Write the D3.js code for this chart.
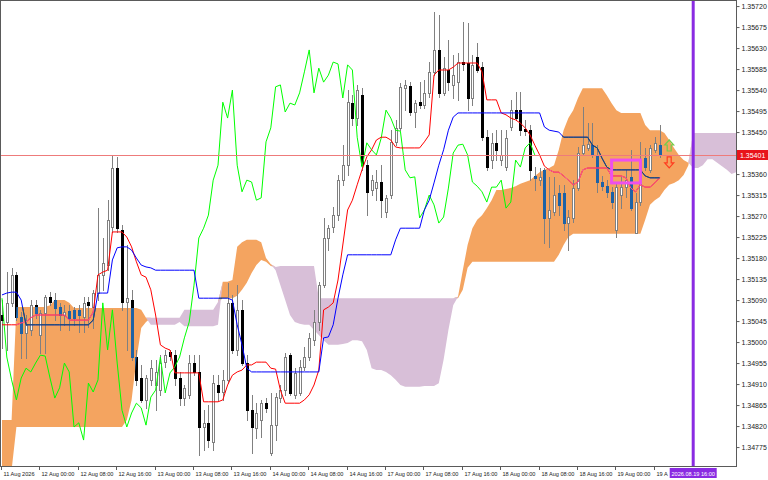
<!DOCTYPE html>
<html><head><meta charset="utf-8">
<script src="https://cdn.jsdelivr.net/npm/d3@7"></script>
<style>html,body{margin:0;padding:0;background:#fff}svg{display:block}</style>
</head><body><svg id="c" width="768" height="480"></svg>
<script>
// ---- data (H1 bars, 11 Aug 2026 16:00 .. 19 Aug 2026 09:00) ----
const opens=[
1.35058,1.35043,1.35084,1.35144,1.35054,1.35019,1.35026,1.35079,1.35015,1.35062,
1.35097,1.35090,1.35075,1.35058,1.35067,1.35069,1.35069,1.35054,1.35086,1.35075,
1.35105,1.35144,1.35165,1.35247,1.35373,1.35240,1.35086,1.35090,1.34968,1.34923,
1.34876,1.34919,1.34908,1.34897,1.34957,1.34979,1.34972,1.34923,1.34880,1.34887,
1.34955,1.34936,1.34818,1.34827,1.34786,1.34908,1.34893,1.34919,1.35084,1.34983,
1.35069,1.34955,1.34854,1.34816,1.34833,1.34869,1.34762,1.34822,1.34880,1.34897,
1.34972,1.34887,1.34891,1.34947,1.34968,1.35004,1.35043,1.35122,1.35223,1.35247,
1.35272,1.35347,1.35379,1.35512,1.35480,1.35529,1.35379,1.35326,1.35330,1.35343,
1.35279,1.35315,1.35429,1.35459,1.35544,1.35549,1.35493,1.35514,1.35508,1.35534,
1.35579,1.35626,1.35534,1.35583,1.35551,1.35557,1.35600,1.35598,1.35523,1.35611,
1.35589,1.35439,1.35390,1.35427,1.35390,1.35375,1.35461,1.35497,1.35497,1.35457,
1.35454,1.35356,1.35347,1.35369,1.35266,1.35279,1.35319,1.35319,1.35255,1.35266,
1.35330,1.35405,1.35416,1.35422,1.35401,1.35343,1.35334,1.35322,1.35240,1.35315,
1.35332,1.35354,1.35234,1.35300,1.35394,1.35369,1.35412,1.35422];
const highs=[
1.35090,1.35150,1.35159,1.35150,1.35064,1.35058,1.35090,1.35090,1.35069,1.35101,
1.35107,1.35105,1.35084,1.35079,1.35079,1.35075,1.35079,1.35097,1.35097,1.35112,
1.35287,1.35223,1.35304,1.35401,1.35397,1.35251,1.35208,1.35112,1.34983,1.34951,
1.34929,1.34962,1.34962,1.34972,1.34983,1.34983,1.34983,1.34936,1.34908,1.34972,
1.34972,1.34972,1.34854,1.34865,1.34929,1.34929,1.34940,1.35127,1.35101,1.35122,
1.35090,1.34972,1.34887,1.34869,1.34876,1.34880,1.34891,1.34891,1.34908,1.34977,
1.34977,1.34944,1.34962,1.34989,1.35019,1.35069,1.35129,1.35266,1.35251,1.35289,
1.35358,1.35422,1.35540,1.35529,1.35551,1.35544,1.35390,1.35358,1.35369,1.35379,
1.35315,1.35454,1.35476,1.35555,1.35562,1.35557,1.35519,1.35557,1.35562,1.35600,
1.35707,1.35701,1.35611,1.35647,1.35615,1.35619,1.35686,1.35684,1.35615,1.35641,
1.35600,1.35454,1.35448,1.35454,1.35454,1.35454,1.35519,1.35536,1.35536,1.35476,
1.35465,1.35375,1.35373,1.35373,1.35354,1.35354,1.35337,1.35337,1.35283,1.35347,
1.35418,1.35504,1.35469,1.35469,1.35422,1.35356,1.35347,1.35332,1.35341,1.35354,
1.35369,1.35412,1.35319,1.35429,1.35416,1.35422,1.35439,1.35465];
const lows=[
1.34987,1.34983,1.35077,1.35047,1.34966,1.34966,1.35015,1.35052,1.34977,1.34977,
1.35079,1.35047,1.35026,1.35037,1.35026,1.35037,1.35022,1.35022,1.35032,1.35030,
1.35090,1.35112,1.35154,1.35236,1.35236,1.35069,1.34983,1.34962,1.34908,1.34872,
1.34859,1.34908,1.34854,1.34887,1.34947,1.34962,1.34908,1.34865,1.34865,1.34880,
1.34929,1.34758,1.34769,1.34775,1.34769,1.34876,1.34876,1.34912,1.34977,1.34972,
1.34951,1.34833,1.34762,1.34794,1.34797,1.34850,1.34758,1.34790,1.34872,1.34887,
1.34887,1.34880,1.34887,1.34940,1.34962,1.34994,1.35026,1.35118,1.35197,1.35236,
1.35262,1.35337,1.35358,1.35465,1.35465,1.35369,1.35272,1.35315,1.35304,1.35268,
1.35268,1.35309,1.35422,1.35454,1.35497,1.35487,1.35461,1.35502,1.35502,1.35525,
1.35572,1.35525,1.35529,1.35540,1.35523,1.35519,1.35583,1.35497,1.35508,1.35579,
1.35433,1.35369,1.35373,1.35390,1.35379,1.35369,1.35454,1.35476,1.35444,1.35444,
1.35347,1.35326,1.35337,1.35212,1.35204,1.35272,1.35272,1.35240,1.35197,1.35257,
1.35326,1.35401,1.35412,1.35397,1.35322,1.35326,1.35311,1.35287,1.35225,1.35287,
1.35311,1.35283,1.35234,1.35294,1.35369,1.35364,1.35407,1.35397];
const closes=[
1.35047,1.35084,1.35144,1.35054,1.35019,1.35037,1.35079,1.35062,1.35062,1.35097,
1.35086,1.35073,1.35058,1.35064,1.35052,1.35052,1.35058,1.35084,1.35079,1.35105,
1.35144,1.35169,1.35262,1.35373,1.35244,1.35086,1.35094,1.34968,1.34919,1.34876,
1.34923,1.34944,1.34936,1.34955,1.34972,1.34970,1.34923,1.34880,1.34902,1.34955,
1.34936,1.34818,1.34827,1.34790,1.34912,1.34893,1.34919,1.35084,1.34983,1.35069,
1.34955,1.34854,1.34818,1.34848,1.34869,1.34859,1.34822,1.34882,1.34897,1.34968,
1.34891,1.34934,1.34947,1.34968,1.35009,1.35043,1.35122,1.35223,1.35244,1.35272,
1.35347,1.35379,1.35514,1.35480,1.35540,1.35379,1.35322,1.35347,1.35343,1.35304,
1.35309,1.35429,1.35459,1.35547,1.35551,1.35493,1.35512,1.35508,1.35534,1.35579,
1.35626,1.35534,1.35587,1.35557,1.35572,1.35600,1.35596,1.35523,1.35594,1.35583,
1.35439,1.35375,1.35427,1.35412,1.35401,1.35437,1.35497,1.35480,1.35454,1.35452,
1.35369,1.35352,1.35354,1.35266,1.35283,1.35315,1.35294,1.35255,1.35268,1.35330,
1.35405,1.35422,1.35424,1.35401,1.35343,1.35334,1.35322,1.35300,1.35332,1.35332,
1.35347,1.35287,1.35300,1.35390,1.35375,1.35416,1.35427,1.35401];
const tenkan=[
1.35037,1.35037,1.35037,1.35037,1.35041,1.35043,1.35052,1.35058,1.35058,1.35058,
1.35058,1.35058,1.35058,1.35058,1.35047,1.35047,1.35047,1.35047,1.35047,1.35064,
1.35144,1.35150,1.35154,1.35236,1.35236,1.35236,1.35225,1.35204,1.35172,1.35144,
1.35139,1.35112,1.35058,1.34994,1.34987,1.34983,1.34934,1.34934,1.34934,1.34934,
1.34934,1.34934,1.34872,1.34872,1.34872,1.34872,1.34876,1.34908,1.34929,1.34936,
1.34940,1.34951,1.34951,1.34957,1.34957,1.34957,1.34944,1.34942,1.34897,1.34869,
1.34869,1.34869,1.34869,1.34876,1.34887,1.34908,1.34940,1.35069,1.35075,1.35084,
1.35133,1.35208,1.35283,1.35304,1.35337,1.35369,1.35397,1.35412,1.35433,1.35439,
1.35439,1.35433,1.35418,1.35416,1.35416,1.35416,1.35416,1.35416,1.35429,1.35444,
1.35572,1.35583,1.35583,1.35583,1.35589,1.35598,1.35598,1.35598,1.35598,1.35598,
1.35579,1.35519,1.35519,1.35519,1.35491,1.35487,1.35480,1.35476,1.35469,1.35459,
1.35444,1.35422,1.35401,1.35377,1.35369,1.35364,1.35364,1.35356,1.35347,1.35337,
1.35343,1.35369,1.35373,1.35373,1.35373,1.35373,1.35373,1.35356,1.35356,1.35356,
1.35352,1.35330,1.35322,1.35337,1.35332,1.35332,1.35341,1.35352];
const kijun=[
1.35101,1.35105,1.35107,1.35107,1.35090,1.35037,1.35037,1.35037,1.35037,1.35037,
1.35037,1.35037,1.35037,1.35037,1.35037,1.35037,1.35037,1.35037,1.35037,1.35047,
1.35105,1.35105,1.35105,1.35176,1.35202,1.35204,1.35204,1.35197,1.35180,1.35165,
1.35161,1.35159,1.35154,1.35154,1.35154,1.35154,1.35154,1.35154,1.35154,1.35154,
1.35154,1.35094,1.35094,1.35094,1.35094,1.35094,1.35094,1.35094,1.35090,1.35037,
1.34994,1.34944,1.34936,1.34936,1.34936,1.34936,1.34936,1.34936,1.34936,1.34936,
1.34936,1.34936,1.34936,1.34936,1.34936,1.34936,1.34936,1.35009,1.35011,1.35037,
1.35094,1.35144,1.35187,1.35187,1.35187,1.35187,1.35187,1.35187,1.35187,1.35187,
1.35187,1.35187,1.35219,1.35244,1.35244,1.35244,1.35244,1.35244,1.35283,1.35304,
1.35341,1.35379,1.35412,1.35454,1.35482,1.35491,1.35491,1.35491,1.35491,1.35491,
1.35491,1.35491,1.35491,1.35491,1.35491,1.35491,1.35491,1.35491,1.35491,1.35491,
1.35491,1.35491,1.35491,1.35461,1.35454,1.35452,1.35450,1.35439,1.35439,1.35439,
1.35439,1.35439,1.35439,1.35422,1.35416,1.35394,1.35375,1.35369,1.35369,1.35369,
1.35369,1.35369,1.35369,1.35369,1.35356,1.35352,1.35352,1.35352];
// Senkou spans, already shifted 26 bars forward (index = bar on screen)
const spanA=[
1.34833,1.34833,1.34833,1.35075,1.35075,1.35075,1.35075,1.35075,1.35075,1.35075,
1.35079,1.35090,1.35090,1.35090,1.35084,1.35073,1.35073,1.35073,1.35073,1.35073,
1.35073,1.35073,1.35073,1.35073,1.35073,1.35073,1.35073,1.35073,1.35073,1.35069,
1.35052,1.35037,1.35037,1.35037,1.35037,1.35037,1.35037,1.35043,1.35034,1.35034,
1.35034,1.35034,1.35034,1.35034,1.35034,1.35037,1.35129,1.35129,1.35133,1.35204,
1.35214,1.35219,1.35219,1.35219,1.35214,1.35180,1.35167,1.35154,1.35122,1.35090,
1.35058,1.35043,1.35039,1.35037,1.35037,1.35026,1.35015,1.35004,1.34994,1.34994,
1.34994,1.34996,1.34998,1.35004,1.35004,1.35002,1.34983,1.34944,1.34940,1.34940,
1.34936,1.34929,1.34919,1.34908,1.34904,1.34904,1.34904,1.34904,1.34906,1.34906,
1.34906,1.34912,1.34962,1.35026,1.35079,1.35097,1.35154,1.35208,1.35244,1.35262,
1.35272,1.35287,1.35304,1.35326,1.35326,1.35328,1.35330,1.35334,1.35339,1.35343,
1.35347,1.35356,1.35364,1.35369,1.35373,1.35379,1.35412,1.35454,1.35480,1.35497,
1.35523,1.35544,1.35544,1.35544,1.35544,1.35544,1.35529,1.35512,1.35497,1.35491,
1.35491,1.35491,1.35491,1.35491,1.35465,1.35454,1.35454,1.35454,1.35448,1.35433,
1.35416,1.35401,1.35390,1.35384,1.35373,1.35373,1.35379,1.35392,1.35392,1.35384,
1.35377,1.35369,1.35360,1.35364];
const spanB=[
1.34726,1.34726,1.34726,1.34818,1.34818,1.34818,1.34818,1.34818,1.34818,1.34818,
1.34818,1.34818,1.34818,1.34818,1.34818,1.34818,1.34818,1.34818,1.34818,1.34818,
1.34818,1.34818,1.34818,1.34818,1.34818,1.34818,1.34833,1.34876,1.34962,1.35030,
1.35043,1.35052,1.35052,1.35052,1.35052,1.35052,1.35052,1.35052,1.35069,1.35069,
1.35069,1.35069,1.35069,1.35069,1.35069,1.35086,1.35094,1.35094,1.35094,1.35099,
1.35112,1.35127,1.35148,1.35165,1.35176,1.35172,1.35163,1.35161,1.35163,1.35163,
1.35163,1.35163,1.35163,1.35163,1.35163,1.35163,1.35094,1.35094,1.35094,1.35094,
1.35094,1.35094,1.35094,1.35094,1.35094,1.35094,1.35094,1.35094,1.35094,1.35094,
1.35094,1.35094,1.35094,1.35094,1.35094,1.35094,1.35094,1.35094,1.35094,1.35094,
1.35094,1.35094,1.35094,1.35094,1.35094,1.35094,1.35112,1.35159,1.35172,1.35172,
1.35172,1.35172,1.35172,1.35172,1.35172,1.35172,1.35172,1.35172,1.35172,1.35172,
1.35172,1.35172,1.35172,1.35172,1.35172,1.35172,1.35187,1.35208,1.35225,1.35232,
1.35232,1.35232,1.35232,1.35232,1.35232,1.35232,1.35232,1.35232,1.35232,1.35232,
1.35232,1.35232,1.35232,1.35232,1.35262,1.35294,1.35304,1.35311,1.35326,1.35337,
1.35341,1.35347,1.35358,1.35379,1.35448,1.35448,1.35448,1.35448,1.35448,1.35448,
1.35448,1.35448,1.35448,1.35448];
const chikouShift=26;
const priceTicks=[1.35720,1.35675,1.35630,1.35585,1.35540,1.35495,1.35450,1.35360,1.35315,1.35270,1.35225,
1.35180,1.35135,1.35090,1.35045,1.35000,1.34955,1.34910,1.34865,1.34820,1.34775];
const timeTickBars=[0,8,16,24,32,40,48,56,64,72,80,88,96,104,112,120,128,136];
const timeTickLabels=["11 Aug 2026","12 Aug 00:00","12 Aug 08:00","12 Aug 16:00","13 Aug 00:00","13 Aug 08:00",
"13 Aug 16:00","14 Aug 00:00","14 Aug 08:00","14 Aug 16:00","17 Aug 00:00","17 Aug 08:00","17 Aug 16:00",
"18 Aug 00:00","18 Aug 08:00","18 Aug 16:00","19 Aug 00:00","19 Aug 08:00"];
const bidPrice=1.35401;
const vLineBar=144, vLineLabel="2026.08.19 16:00";
const boxBars=[127,133], boxPrices=[1.35390,1.35341];
const arrowBars=[139,139], arrowPrices=[1.35433,1.35397], arrowDirs=["up","down"];

// ---- layout ----
const svg=d3.select("#c");
const PR=736, PB=466;
const x=d3.scaleLinear().domain([0,160]).range([2,2+4.8*160]);
const y=d3.scaleLinear().domain([1.34758,1.35733]).range([455,0]);
const FONT='"Liberation Sans", Arial, sans-serif';
const vx=x(vLineBar);
const vLabelW=47;

svg.append("rect").attr("width",768).attr("height",480).attr("fill","#fff");
const defs=svg.append("defs");
defs.append("clipPath").attr("id","plot").append("rect").attr("x",0).attr("y",0).attr("width",PR).attr("height",PB);

const cloudIdx=d3.range(spanA.length);
const orangeArea=d3.area().x(i=>x(i)).y0(i=>y(spanB[i])).y1(i=>y(Math.max(spanA[i],spanB[i])));
const thistleArea=d3.area().x(i=>x(i)).y0(i=>y(spanA[i])).y1(i=>y(Math.max(spanA[i],spanB[i])));
defs.append("clipPath").attr("id","orange").append("path").attr("d",orangeArea(cloudIdx));

const g=svg.append("g").attr("clip-path","url(#plot)");
g.append("path").attr("d",orangeArea(cloudIdx)).attr("fill","#f4a460");
g.append("path").attr("d",thistleArea(cloudIdx)).attr("fill","#d8bfd8");

// candles
const bars=d3.range(closes.length);
const cx=i=>Math.round(x(i));
const cg=g.append("g");
cg.selectAll("line.w").data(bars).join("line")
  .attr("x1",i=>cx(i)+0.5).attr("x2",i=>cx(i)+0.5)
  .attr("y1",i=>Math.round(y(highs[i]))).attr("y2",i=>Math.round(y(lows[i]))+1)
  .attr("stroke","#808080").attr("stroke-width",1);
const bull=bars.filter(i=>closes[i]>=opens[i]);
const bear=bars.filter(i=>closes[i]<opens[i]);
cg.selectAll("rect.bu").data(bull).join("rect")
  .attr("x",i=>cx(i)-0.5).attr("width",2)
  .attr("y",i=>Math.round(y(closes[i]))+0.5)
  .attr("height",i=>Math.max(0,Math.round(y(opens[i]))-Math.round(y(closes[i]))))
  .attr("fill","#fff").attr("stroke","#808080").attr("stroke-width",1);
const bearBody=sel=>sel.attr("x",i=>cx(i)-1).attr("width",3)
  .attr("y",i=>Math.round(y(opens[i])))
  .attr("height",i=>Math.max(1,Math.round(y(closes[i]))-Math.round(y(opens[i]))+1));
cg.selectAll("rect.be").data(bear).join("rect").call(bearBody).attr("fill","#000");
g.append("g").attr("clip-path","url(#orange)").selectAll("rect").data(bear).join("rect").call(bearBody).attr("fill","#1d62a6");

// ichimoku lines
const lineOf=(arr)=>d3.line().x((d,i)=>x(i)).y(d=>y(d))(arr);
const chik=d3.line().x(d=>x(d[0])).y(d=>y(d[1]))(closes.map((c,j)=>[j-chikouShift,c]).filter(d=>d[0]>=0));
g.append("path").attr("d",chik).attr("fill","none").attr("stroke","#00ff00").attr("stroke-width",1);
g.append("path").attr("d",lineOf(tenkan)).attr("fill","none").attr("stroke","#ff0000").attr("stroke-width",1);
g.append("path").attr("d",lineOf(kijun)).attr("fill","none").attr("stroke","#0000ff").attr("stroke-width",1);
const og=g.append("g").attr("clip-path","url(#orange)");
og.append("path").attr("d",lineOf(tenkan)).attr("fill","none").attr("stroke","#f45b9f").attr("stroke-width",1);
og.append("path").attr("d",lineOf(kijun)).attr("fill","none").attr("stroke","#1b5a5c").attr("stroke-width",1);

// bid line
g.append("line").attr("x1",0).attr("x2",PR).attr("y1",Math.round(y(bidPrice))+0.5).attr("y2",Math.round(y(bidPrice))+0.5)
  .attr("stroke","#ee7b7b").attr("stroke-width",1);

// rectangle object
g.append("rect").attr("x",x(boxBars[0])).attr("y",y(boxPrices[0]))
  .attr("width",x(boxBars[1])-x(boxBars[0])).attr("height",y(boxPrices[1])-y(boxPrices[0]))
  .attr("fill","none").attr("stroke","#ee4fee").attr("stroke-width",3);

// arrows
arrowBars.forEach((b,k)=>{
  const ax=x(b), ay=y(arrowPrices[k]);
  let pts;
  if(arrowDirs[k]==="up") pts=[[0,0],[4.5,5],[2,5],[2,11],[-2,11],[-2,5],[-4.5,5]];
  else pts=[[-2,0],[2,0],[2,6],[4.5,6],[0,11],[-4.5,6],[-2,6]];
  g.append("path").attr("d","M"+pts.map(p=>[ax+p[0],ay+p[1]].join(",")).join("L")+"Z")
   .attr("fill","none").attr("stroke",arrowDirs[k]==="up"?"#74cc4a":"#ff3b1f").attr("stroke-width",1.2);
});

// vertical line
svg.append("line").attr("x1",vx).attr("x2",vx).attr("y1",0).attr("y2",PB).attr("stroke","#8a2be2").attr("stroke-width",3);

// frame
svg.append("rect").attr("x",0.5).attr("y",0.5).attr("width",PR).attr("height",PB).attr("fill","none").attr("stroke","#5a5a5a").attr("stroke-width",1);

// right axis
const ya=svg.append("g").attr("transform",`translate(${PR+0.5},0)`)
  .call(d3.axisRight(y).tickValues(priceTicks).tickFormat(d3.format(".5f")).tickSize(3).tickPadding(2));
ya.select(".domain").remove();
ya.selectAll("line").attr("stroke","#5a5a5a");
ya.selectAll("text").attr("font-family",FONT).attr("font-size",7).attr("fill","#222");

// bid label
const by=Math.round(y(bidPrice));
svg.append("rect").attr("x",PR+1).attr("y",by-5).attr("width",768-PR-1).attr("height",10).attr("fill","#e8141b");
svg.append("text").attr("x",PR+4).attr("y",by+3).attr("font-family",FONT).attr("font-size",7).attr("fill","#fff").text(bidPrice.toFixed(5));

// bottom axis (labels that run into the vertical-line label are cut, as the terminal does)
const xa=svg.append("g");
const limit=vx-vLabelW/2-1;
timeTickBars.forEach((b,k)=>{
  const tx=Math.round(x(b))-0.5;
  xa.append("line").attr("x1",tx).attr("x2",tx).attr("y1",PB+1).attr("y2",PB+4).attr("stroke","#5a5a5a");
  const t=xa.append("text").attr("x",tx+2).attr("y",PB+10).attr("font-family",FONT).attr("font-size",5.6).attr("fill","#222").text(timeTickLabels[k]);
  let s=timeTickLabels[k];
  while(s.length>1 && tx+2+t.node().getComputedTextLength()>limit){ s=s.slice(0,-1); t.text(s); }
});
svg.append("rect").attr("x",vx-vLabelW/2).attr("y",PB+2).attr("width",vLabelW).attr("height",10).attr("fill","#8a2be2");
svg.append("text").attr("x",vx).attr("y",PB+10).attr("text-anchor","middle").attr("font-family",FONT).attr("font-size",5.6).attr("fill","#fff").text(vLineLabel);
</script>
</body></html>
